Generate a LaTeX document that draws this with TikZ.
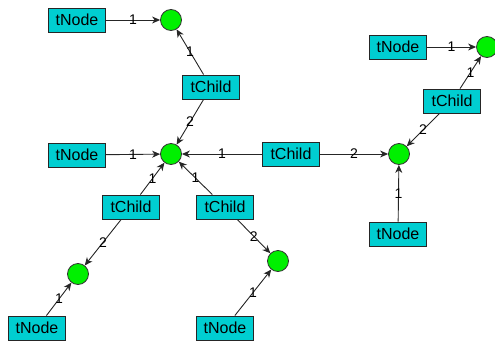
\documentclass[tikz,border=0pt]{standalone}
\usepackage{fontspec}
\setmainfont{Liberation Sans}
\usetikzlibrary{arrows.meta}
\definecolor{boxfill}{RGB}{0,206,209}
\definecolor{dotfill}{RGB}{0,240,0}
\tikzset{
  tbox/.style={draw=black!85, line width=0.9pt, fill=boxfill, rectangle,
    minimum width=57pt, minimum height=24pt, inner sep=0pt,
    font=\fontsize{16}{16}\selectfont},
  joint/.style={draw=black!80, line width=0.8pt, fill=dotfill, circle,
    minimum size=21pt, inner sep=0pt},
  link/.style={draw=black!85, line width=0.9pt,
    -{Stealth[length=8pt,width=7pt,inset=2.5pt]}},
  num/.style={midway, inner sep=0pt, font=\fontsize{14}{14}\selectfont}
}
\begin{document}
\begin{tikzpicture}[x=1pt, y=-1pt]
\useasboundingbox (0,0) rectangle (495,340);
% joints
\node[joint] (c1) at (171,20) {};
\node[joint] (c2) at (171,154) {};
\node[joint] (c3) at (399,154) {};
\node[joint] (c4) at (487,47) {};
\node[joint] (c5) at (78,274) {};
\node[joint] (c6) at (278,261) {};
% leaf nodes
\node[tbox] (n1) at (77,20) {tNode};
\node[tbox] (n2) at (77,155) {tNode};
\node[tbox] (n3) at (398,47) {tNode};
\node[tbox] (n4) at (398,234) {tNode};
\node[tbox] (n5) at (37,328) {tNode};
\node[tbox] (n6) at (225,328) {tNode};
% child nodes
\node[tbox] (k1) at (211,87) {tChild};
\node[tbox] (k2) at (291,154) {tChild};
\node[tbox] (k3) at (452,101) {tChild};
\node[tbox] (k4) at (131,207) {tChild};
\node[tbox] (k5) at (225,207) {tChild};
% links, each with its index label centred on the line
\draw[link] (n1) -- node[num] {1} (c1);
\draw[link] (n2) -- node[num] {1} (c2);
\draw[link] (n3) -- node[num] {1} (c4);
\draw[link] (n4) -- node[num] {1} (c3);
\draw[link] (n5) -- node[num] {1} (c5);
\draw[link] (n6) -- node[num] {1} (c6);
\draw[link] (k1) -- node[num] {1} (c1);
\draw[link] (k1) -- node[num] {2} (c2);
\draw[link] (k2) -- node[num] {1} (c2);
\draw[link] (k2) -- node[num] {2} (c3);
\draw[link] (k3) -- node[num] {1} (c4);
\draw[link] (k3) -- node[num] {2} (c3);
\draw[link] (k4) -- node[num] {1} (c2);
\draw[link] (k4) -- node[num] {2} (c5);
\draw[link] (k5) -- node[num] {1} (c2);
\draw[link] (k5) -- node[num] {2} (c6);
\end{tikzpicture}
\end{document}
